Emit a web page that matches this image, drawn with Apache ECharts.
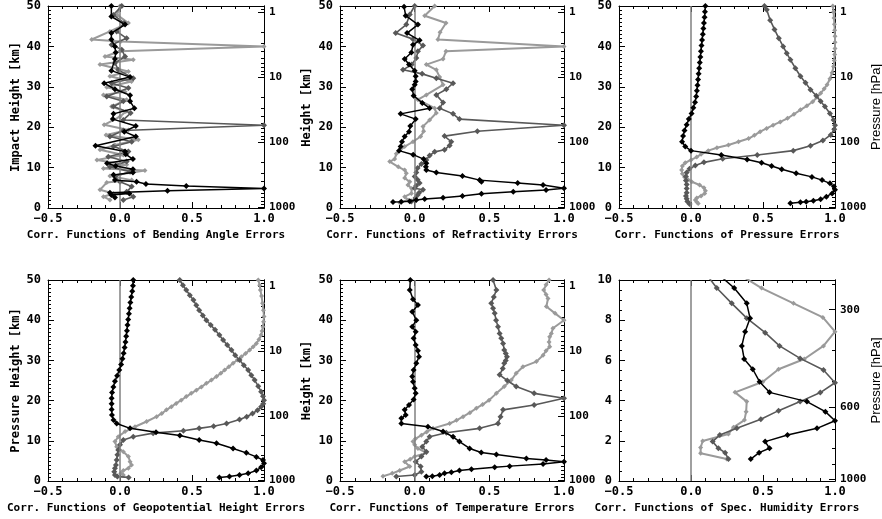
<!DOCTYPE html>
<html><head><meta charset="utf-8">
<script src="https://cdn.jsdelivr.net/npm/echarts@6/dist/echarts.min.js"></script>
<style>html,body{margin:0;padding:0;background:#fff}#c{width:882px;height:519px}</style>
</head><body><div id="c"></div><script>
// ---------- data: [height km, correlation] ----------
const bendBlack = [[50,-0.06],[47.4,-0.06],[45.4,0.035],[43.3,-0.06],[41.7,-0.06],[40,-0.035],[38.5,-0.03],[36.9,-0.035],[34,-0.06],[32.4,0.07],[30.9,-0.11],[29.4,-0.035],[27.9,0.07],[26.4,0.07],[24.7,0.1],[23.3,-0.045],[22,-0.05],[20.3,0.11],[18.9,0.03],[17.7,0.11],[15.4,-0.17],[14,0.035],[13.3,0.04],[12.1,0.09],[11.1,-0.09],[10.4,-0.03],[9.6,0.09],[8.8,0.09],[8.2,-0.045],[6.9,-0.035],[6.5,0.115],[5.95,0.18],[5.45,0.46],[4.8,1.0],[4.3,0.33],[3.8,-0.07],[3.6,0.065],[3.2,-0.06],[2.6,-0.035]];
const bendDark = [[50,0.012],[47.8,-0.046],[45.8,0.028],[43.7,-0.023],[42,0.046],[40.4,-0.058],[39.2,0.012],[37.5,0.035],[35.9,-0.035],[34.2,-0.012],[32.1,0.092],[30.9,-0.058],[29.7,0.058],[27.6,-0.092],[26.4,0.023],[25.1,-0.046],[23.5,0.074],[21.8,0.023],[20.5,1.0],[19.2,0.023],[17.7,-0.07],[16.4,0.081],[15.2,-0.046],[14,0.058],[12.7,-0.081],[11.5,0.046],[10.2,-0.07],[9,0.07],[7.8,-0.035],[6.5,0],[5.3,0.081],[4,0.046],[2.8,0.092],[2,0.023]];
const bendLight = [[50,0],[47.8,-0.02],[45.8,0.058],[43.7,-0.07],[41.7,-0.196],[41.2,0.005],[40,1.0],[38.8,0],[37.5,-0.104],[36.7,0.092],[35.5,-0.139],[33.8,0.058],[32.6,-0.07],[31.3,0.08],[29.9,-0.092],[28.8,0.035],[28,-0.115],[26.8,0.046],[25.1,-0.058],[23.9,0.04],[22.6,0],[20.6,-0.11],[19.3,0.058],[18.1,-0.097],[16.9,0.127],[15.6,-0.035],[14.4,-0.139],[13.1,0.023],[11.9,-0.16],[10.7,0.046],[9.8,-0.115],[9.3,0.173],[7.9,-0.07],[6.9,0.081],[6.3,-0.092],[4.5,-0.139],[3.6,-0.046],[2.8,-0.115],[2,-0.07]];

const refrBlack = [[49.8,-0.071],[47.6,-0.06],[45.4,0.022],[43.3,-0.051],[41.5,0.033],[40.4,-0.011],[38.5,-0.022],[36.9,-0.067],[35.5,-0.038],[34,0],[32.6,0.007],[31.3,0.007],[30.5,0],[29.4,-0.016],[27.8,-0.007],[26,0.051],[24.7,0.1],[23.3,-0.094],[22,0.007],[20.3,-0.029],[18.9,-0.038],[17.7,-0.067],[16.4,-0.085],[15.2,-0.094],[14.2,-0.105],[13.2,-0.01],[12.1,0.06],[11.1,0.078],[10.2,0.075],[9.4,0.078],[8.8,0.145],[7.9,0.32],[6.9,0.435],[6.5,0.447],[6.2,0.69],[5.7,0.86],[4.9,1.0],[4.45,0.88],[4.0,0.66],[3.5,0.447],[3.0,0.32],[2.55,0.19],[2.2,0.067],[2.0,0.01],[1.7,-0.033],[1.55,-0.09],[1.5,-0.145]];
const refrDark = [[50,0],[47.9,-0.033],[45.4,-0.056],[43.3,-0.127],[41.8,-0.011],[40.2,0.056],[38.8,0.022],[37.1,0.011],[35.5,-0.02],[34.2,-0.078],[33.2,0.05],[32.1,0.145],[30.9,0.257],[29.4,0.212],[28,0.145],[26.1,0.19],[24.7,0.167],[23.3,0.257],[22,0.3],[20.5,1.0],[19,0.42],[17.8,0.2],[16.4,0.245],[15.5,0.234],[14.4,0.2],[13.9,0.134],[13,0.1],[11.9,0.078],[10.9,0.045],[9.9,0.02],[8.8,0.011],[7.8,0],[7,0.02],[6.2,0.033],[5.5,0.01],[4.9,0],[4.5,0.056],[3.8,0.03],[3.2,0.02],[2.5,0.005],[1.6,-0.022]];
const refrLight = [[50,0.134],[47.6,0.067],[45.8,0.21],[43.5,0.17],[41.7,0.156],[40,1.0],[38.8,0.21],[36.9,0.19],[35.5,0.078],[34.2,0.145],[32.4,0.167],[30.5,0.19],[28,0.078],[26.8,0.022],[24.7,0.134],[23.5,0.145],[21.8,0.1],[20.2,0.056],[19,0.06],[17.7,0.04],[16.4,-0.011],[15.2,-0.067],[13.4,-0.123],[12.1,-0.134],[11.5,-0.167],[10.2,-0.11],[9.4,-0.067],[8.6,-0.056],[7.4,-0.067],[6.5,-0.033],[5.7,-0.045],[4.8,-0.02],[3.6,-0.022],[2.8,-0.067],[2,-0.045],[1.3,-0.1]];

const presBlack = [[50,0.1],[48.6,0.097],[47.2,0.094],[45.8,0.09],[44.4,0.086],[43,0.082],[41.6,0.077],[40.2,0.073],[38.8,0.069],[37.4,0.065],[36,0.061],[34.6,0.057],[33.2,0.053],[31.8,0.049],[30.4,0.045],[29,0.041],[27.6,0.036],[26.2,0.028],[24.8,0.016],[23.4,0.004],[22,-0.015],[20.6,-0.03],[19.2,-0.045],[17.8,-0.055],[16.4,-0.062],[15.2,-0.04],[14.2,0.0],[13.1,0.21],[12,0.39],[11.2,0.49],[10.4,0.56],[9.6,0.63],[8.6,0.73],[7.7,0.84],[6.9,0.91],[6.1,0.965],[5.3,0.993],[4.5,1.0],[3.6,0.98],[2.8,0.94],[2.15,0.9],[1.8,0.85],[1.55,0.8],[1.4,0.76],[1.15,0.69]];
const presDark = [[50,0.51],[49.1,0.526],[46.5,0.55],[44.2,0.58],[42,0.61],[40,0.64],[38.3,0.665],[36.7,0.69],[34.6,0.725],[32.6,0.76],[31,0.795],[29.3,0.83],[27.8,0.87],[26.4,0.9],[25.1,0.93],[23.4,0.965],[21.8,0.99],[20.5,1.0],[19.5,0.995],[18.1,0.97],[16.7,0.916],[15.4,0.83],[14.2,0.71],[13.1,0.46],[12.2,0.22],[11.3,0.09],[10.5,0.03],[9.7,-0.01],[8.8,-0.03],[7.8,-0.035],[6.8,-0.035],[5.8,-0.03],[4.8,-0.03],[3.8,-0.03],[3,-0.035],[2.3,-0.03],[1.6,-0.025],[1,-0.01]];
const presLight = [[50,0.985],[48.5,0.99],[47,0.993],[45.5,0.996],[44,0.998],[42.5,1.0],[41,1.0],[39.5,1.0],[38,0.998],[36.5,0.995],[35,0.99],[33.5,0.98],[32,0.965],[30.5,0.945],[29.5,0.925],[28.4,0.9],[27.4,0.875],[26.3,0.845],[25.3,0.805],[24.3,0.76],[23.2,0.715],[22.2,0.67],[21.3,0.62],[20.5,0.57],[19.7,0.525],[18.9,0.48],[18,0.44],[17.2,0.4],[16.4,0.33],[15.6,0.26],[14.9,0.18],[14.2,0.12],[13.3,0.07],[12.6,0.04],[11.9,0.0],[11.2,-0.04],[10.4,-0.06],[9.4,-0.065],[8.5,-0.06],[7.7,-0.045],[7,-0.02],[6.5,0.005],[5.7,0.06],[5,0.09],[4.3,0.1],[3.6,0.095],[3,0.07],[2.5,0.04],[2,0.03],[1.5,0.04],[1.1,0.05]];

const geoBlack = [[50,0.092],[48.6,0.09],[47.2,0.085],[45.8,0.078],[44.4,0.072],[43,0.067],[41.6,0.062],[40.2,0.057],[38.8,0.052],[37.4,0.048],[36,0.043],[34.6,0.038],[33.2,0.032],[31.8,0.025],[30.4,0.017],[29,0.008],[27.6,-0.005],[26.2,-0.02],[24.8,-0.035],[23.4,-0.046],[22,-0.055],[20.6,-0.058],[19.2,-0.058],[17.8,-0.058],[16.4,-0.056],[15.2,-0.045],[14.3,-0.023],[13.1,0.07],[12.1,0.25],[11.3,0.416],[10.2,0.55],[9.4,0.67],[8.1,0.785],[7,0.877],[6,0.947],[5.2,0.993],[4.4,1.0],[3.4,0.98],[2.6,0.947],[1.9,0.89],[1.5,0.83],[1.1,0.76],[0.9,0.69]];
const geoDark = [[50,0.415],[48.7,0.437],[47.5,0.46],[46.2,0.485],[45,0.51],[43.7,0.53],[42.5,0.55],[41.2,0.575],[40,0.6],[38.8,0.63],[37.6,0.66],[36.3,0.69],[35.1,0.716],[33.8,0.745],[32.6,0.774],[31.3,0.8],[30.1,0.83],[28.8,0.86],[27.6,0.89],[26.3,0.912],[25.1,0.935],[23.6,0.96],[22.2,0.98],[21.1,0.993],[20.1,1.0],[19.2,0.995],[18.5,0.98],[17.6,0.955],[16.8,0.92],[16,0.88],[15.3,0.83],[14.3,0.74],[13.6,0.65],[13.1,0.55],[12.5,0.44],[11.9,0.23],[11,0.092],[10.2,0.023],[9,0],[7.7,-0.012],[6.5,-0.018],[5.2,-0.023],[4,-0.028],[3.2,-0.035],[2.3,-0.04],[1.5,-0.035],[1.1,-0.018],[0.9,0.06]];
const geoLight = [[50,0.96],[48.7,0.97],[47.5,0.975],[46,0.983],[44.2,0.99],[42.5,0.996],[40.9,1.0],[39.6,0.997],[38.4,0.993],[37.3,0.987],[36.3,0.98],[35.2,0.965],[34.2,0.947],[33.4,0.925],[32.6,0.9],[31.7,0.872],[30.9,0.843],[30.1,0.815],[29.3,0.785],[28.4,0.756],[27.6,0.727],[26.8,0.7],[26,0.67],[25.1,0.635],[24.3,0.6],[23.4,0.565],[22.6,0.53],[21.8,0.495],[21,0.46],[20.1,0.425],[19.3,0.39],[18.5,0.357],[17.7,0.323],[16.8,0.29],[16,0.254],[14.8,0.185],[13.5,0.104],[12.3,0.035],[11,-0.012],[9.8,-0.035],[8.5,-0.023],[7.3,0.023],[6.1,0.058],[4.8,0.07],[4,0.08],[3.2,0.058],[2.6,0.023],[1.9,0.005],[1.5,0.023]];

const tempBlack = [[50,-0.029],[47.5,-0.033],[45.2,-0.011],[43.8,0.022],[42.1,-0.016],[40,0.011],[38.4,-0.016],[37.1,0.007],[35.5,-0.007],[33.8,0.007],[32.4,0.022],[30.9,0.029],[29.3,0.011],[27.6,-0.007],[26,-0.016],[24.7,-0.011],[23.1,0],[21.8,0.007],[20.3,-0.007],[18.9,-0.038],[17.7,-0.067],[16.4,-0.06],[15.6,-0.089],[14.3,-0.089],[13.5,0.089],[12.3,0.19],[11,0.257],[9.8,0.3],[8.1,0.368],[7.1,0.446],[6.6,0.547],[5.6,0.748],[5.2,0.88],[4.8,1.0],[4.2,0.86],[3.7,0.636],[3.4,0.536],[2.9,0.38],[2.6,0.3],[2.2,0.246],[1.9,0.2],[1.5,0.167],[1.2,0.118],[1.1,0.078]];
const tempDark = [[50,0.525],[47.5,0.547],[45.8,0.53],[44.2,0.513],[43,0.525],[41.7,0.536],[40,0.545],[38.4,0.558],[36.7,0.569],[35.5,0.58],[34.2,0.592],[32.6,0.6],[31.7,0.61],[30.9,0.618],[30,0.61],[29.3,0.6],[28,0.59],[26.4,0.569],[25,0.62],[23.5,0.68],[21.8,0.8],[20.6,1.0],[18.9,0.8],[17.7,0.592],[16,0.575],[14.3,0.558],[13.1,0.435],[12,0.212],[11,0.1],[9.8,0.078],[8.5,0.051],[7.3,0.078],[6.1,0.045],[4.8,0.007],[3.6,0.04],[2.3,0.045],[1.5,0],[1.1,-0.123]];
const tempLight = [[50,0.9],[48.8,0.88],[47.5,0.864],[46.4,0.88],[45.4,0.893],[43.4,0.882],[41.7,0.94],[40,1.0],[38,0.926],[36.7,0.915],[35.9,0.904],[34.6,0.9],[33.4,0.904],[32.4,0.88],[31.3,0.86],[29.7,0.815],[28.4,0.725],[26.8,0.68],[25.1,0.647],[23.5,0.6],[21.8,0.547],[20.1,0.498],[19,0.455],[18.1,0.413],[17,0.37],[16,0.324],[15.1,0.28],[14.3,0.234],[13.1,0.123],[12.2,0.08],[11.4,0.045],[10.5,0.005],[9.8,-0.011],[9,0.0],[8.1,0.022],[7,0.078],[6.1,0],[5.4,-0.03],[4.8,-0.067],[3.6,-0.033],[2.6,-0.1],[1.9,-0.15],[1.2,-0.212]];

const humBlack = [[10.35,0.18],[9.6,0.3],[8.84,0.387],[8.1,0.41],[7.43,0.376],[6.72,0.353],[6.07,0.369],[5.56,0.429],[4.94,0.476],[4.41,0.545],[3.95,0.805],[3.45,0.933],[3.0,1.0],[2.62,0.875],[2.29,0.67],[1.96,0.515],[1.63,0.545],[1.41,0.473],[1.09,0.415]];
const humDark = [[10.35,0.1],[9.6,0.179],[8.84,0.283],[8.1,0.387],[7.38,0.515],[6.72,0.615],[6.1,0.758],[5.52,0.92],[4.89,1.0],[4.4,0.898],[3.95,0.758],[3.5,0.608],[3.07,0.485],[2.62,0.318],[2.29,0.2],[1.96,0.15],[1.63,0.19],[1.41,0.237],[1.09,0.26]];
const humLight = [[10.35,0.32],[9.6,0.49],[8.84,0.712],[8.14,0.916],[7.43,1.0],[6.72,0.92],[6.07,0.787],[5.56,0.608],[4.94,0.499],[4.41,0.306],[3.95,0.387],[3.45,0.383],[3.03,0.371],[2.67,0.295],[2.34,0.26],[1.99,0.081],[1.67,0.067],[1.38,0.067],[1.09,0.248]];

// axis tick labels / titles
const xTitles = ['Corr. Functions of Bending Angle Errors','Corr. Functions of Refractivity Errors','Corr. Functions of Pressure Errors','Corr. Functions of Geopotential Height Errors','Corr. Functions of Temperature Errors','Corr. Functions of Spec. Humidity Errors'];
const yTitles = ['Impact Height [km]','Height [km]','','Pressure Height [km]','Height [km]',''];
const pressureTitle = 'Pressure [hPa]';
const pressureTicks = [1, 10, 100, 1000];
const pressureMinorTicks = [0.9,2,3,4,5,6,7,8,9,20,30,40,50,60,70,80,90,200,300,400,500,600,700,800,900];
const humPressureTicks = [300, 600, 1000];
const humPressureMinorTicks = [250,400,500,700,800,900];
const zeroRef = 0;

// scale relating pressure to height
const P0 = 1013.25, HSCALE = 7;
const toHeight = p => HSCALE * Math.log(P0 / p);
const toPressure = z => P0 * Math.exp(-z / HSCALE);

// ---------- layout / style ----------
const layout = [
  {left:48, top:6, width:216, height:202},
  {left:340, top:6, width:224, height:202},
  {left:619, top:6, width:216, height:202},
  {left:48, top:280, width:216, height:201},
  {left:340, top:280, width:224, height:201},
  {left:619, top:280, width:216, height:201}
];
const panels = [
  {yMax:50, yStep:10, yMinor:10, pMajor:pressureTicks, pMinor:pressureMinorTicks, pName:'', nameGap:26, lines:[bendLight,bendDark,bendBlack]},
  {yMax:50, yStep:10, yMinor:10, pMajor:pressureTicks, pMinor:pressureMinorTicks, pName:'', nameGap:27, lines:[refrLight,refrDark,refrBlack]},
  {yMax:50, yStep:10, yMinor:10, pMajor:pressureTicks, pMinor:pressureMinorTicks, pName:pressureTitle, nameGap:26, lines:[presLight,presDark,presBlack]},
  {yMax:50, yStep:10, yMinor:10, pMajor:pressureTicks, pMinor:pressureMinorTicks, pName:'', nameGap:26, lines:[geoLight,geoDark,geoBlack]},
  {yMax:50, yStep:10, yMinor:10, pMajor:pressureTicks, pMinor:pressureMinorTicks, pName:'', nameGap:27, lines:[tempLight,tempDark,tempBlack]},
  {yMax:10, yStep:2, yMinor:4, pMajor:humPressureTicks, pMinor:humPressureMinorTicks, pName:pressureTitle, nameGap:26, lines:[humLight,humDark,humBlack]}
];
const colors = ['#9a9a9a', '#585858', '#000000'];
const lineWidths = [2, 1.6, 1.5];
const symbolSizes = [5, 6, 6];
const txt = {fontFamily:'DejaVu Sans Mono', fontWeight:'bold', fontSize:12, color:'#000'};
const rightTxt = {fontFamily:'DejaVu Sans Mono', fontWeight:'bold', fontSize:11, color:'#000'};
const titleTxt = {fontFamily:'DejaVu Sans Mono', fontWeight:'bold', fontSize:11, color:'#000'};
const yNameTxt = {fontFamily:'DejaVu Sans Mono', fontWeight:'bold', fontSize:12, color:'#000'};
const axLine = {show:true, onZero:false, lineStyle:{color:'#000', width:1}};
const fmtX = v => (v < 0 ? '\u2212' : '') + Math.abs(v).toFixed(1);

const grid = [], xAxis = [], yAxis = [], series = [];
panels.forEach((p, i) => {
  grid.push(Object.assign({containLabel:false, outerBoundsMode:'none', show:false}, layout[i]));
  const xBase = {gridIndex:i, type:'value', min:-0.5, max:1.0, interval:0.5,
    axisLine:axLine, splitLine:{show:false}, minorSplitLine:{show:false},
    axisTick:{show:true, inside:true, length:6, lineStyle:{color:'#000'}},
    minorTick:{show:true, splitNumber:5, length:3, lineStyle:{color:'#000'}}};
  xAxis.push(Object.assign({}, xBase, {position:'bottom',
    axisLabel:Object.assign({}, txt, {margin:5, formatter:fmtX}),
    name:xTitles[i], nameLocation:'middle', nameGap:22, nameMoveOverlap:false, nameTextStyle:Object.assign({}, titleTxt)}));
  xAxis.push(Object.assign({}, xBase, {position:'top', axisLabel:{show:false}}));
  yAxis.push({gridIndex:i, type:'value', min:0, max:p.yMax, interval:p.yStep, position:'left',
    axisLine:axLine, splitLine:{show:false}, minorSplitLine:{show:false},
    axisTick:{show:true, inside:true, length:6, lineStyle:{color:'#000'}},
    minorTick:{show:true, splitNumber:p.yMinor, length:3, lineStyle:{color:'#000'}},
    axisLabel:Object.assign({}, txt, {margin:7}),
    name:yTitles[i], nameLocation:'middle', nameGap:p.nameGap, nameMoveOverlap:false, nameTextStyle:Object.assign({}, yNameTxt)});
  const majorH = p.pMajor.map(toHeight), minorH = p.pMinor.map(toHeight);
  yAxis.push({gridIndex:i, type:'value', min:0, max:p.yMax, position:'right',
    axisLine:axLine, splitLine:{show:false},
    axisTick:{show:true, inside:true, length:6, customValues:majorH, lineStyle:{color:'#000'}},
    axisLabel:Object.assign({}, rightTxt, {margin:5, customValues:majorH, formatter:v => String(Math.round(toPressure(v)))}),
    name:p.pName, nameLocation:'middle', nameGap:35, nameMoveOverlap:false,
    nameTextStyle:{fontFamily:'Liberation Sans', fontSize:13, color:'#000'}});
  yAxis.push({gridIndex:i, type:'value', min:0, max:p.yMax, position:'right',
    axisLine:axLine, splitLine:{show:false},
    axisTick:{show:true, inside:true, length:3, customValues:minorH, lineStyle:{color:'#000'}},
    axisLabel:{show:false}});
  p.lines.forEach((arr, k) => {
    const s = {type:'line', xAxisIndex:2*i, yAxisIndex:3*i, data:arr.map(d => [d[1], d[0]]),
      symbol:'diamond', symbolSize:symbolSizes[k], showSymbol:true, showAllSymbol:true, clip:true, silent:true,
      lineStyle:{color:colors[k], width:lineWidths[k]}, itemStyle:{color:colors[k]}, z:3+k, animation:false};
    if (k === 0) {
      s.markLine = {silent:true, symbol:['none','none'], label:{show:false}, animation:false,
        lineStyle:{color:'#808080', width:1.5, type:'solid'}, emphasis:{disabled:true},
        data:[{xAxis:zeroRef}]};
    }
    series.push(s);
  });
});

const chart = echarts.init(document.getElementById('c'), null, {renderer:'canvas'});
chart.setOption({backgroundColor:'#ffffff', animation:false, grid, xAxis, yAxis, series});
</script></body></html>
